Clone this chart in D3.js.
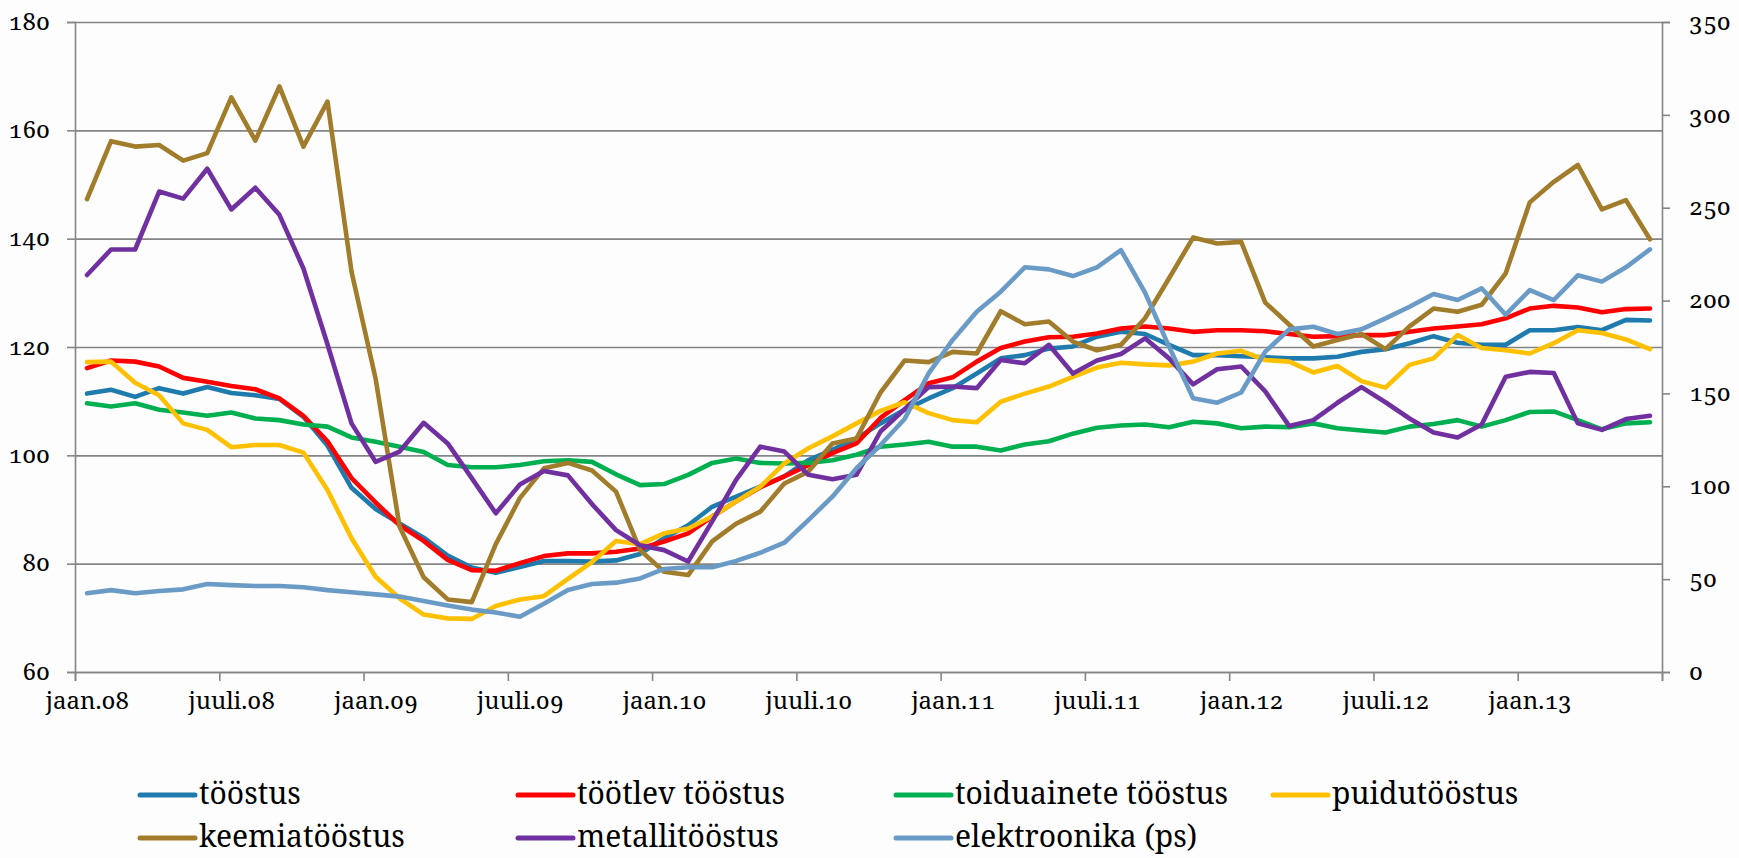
<!DOCTYPE html>
<html>
<head>
<meta charset="utf-8">
<script src="https://cdn.jsdelivr.net/npm/d3@7"></script>
<style>
  html, body { margin: 0; padding: 0; background: #fdfdfd; }
  svg { display: block; }
</style>
</head>
<body>
<svg id="chart" width="1739" height="858"></svg>
<script>
// ---- data ----
const months = d3.range(66); // jaan.08 ... juuni.13
const xTickLabels = ["jaan.08","juuli.08","jaan.09","juuli.09","jaan.10","juuli.10","jaan.11","juuli.11","jaan.12","juuli.12","jaan.13"];
const leftTicks = [60, 80, 100, 120, 140, 160, 180];
const rightTicks = [0, 50, 100, 150, 200, 250, 300, 350];

const seriesNames = ["tööstus", "töötlev tööstus", "toiduainete tööstus", "puidutööstus", "keemiatööstus", "metallitööstus", "elektroonika (ps)"];

const toostus = [111.4,112.1,110.8,112.4,111.4,112.6,111.5,111.1,110.4,107.1,101.8,94.0,90.1,87.4,84.8,81.5,79.3,78.3,79.4,80.5,80.5,80.4,80.6,81.8,84.7,87.1,90.5,92.4,94.2,96.1,99.1,101.0,103.1,105.9,108.4,110.5,112.4,115.1,117.9,118.5,119.7,120.1,121.9,122.8,122.4,120.4,118.5,118.5,118.3,118.1,117.9,117.9,118.2,119.1,119.6,120.7,122.0,120.8,120.4,120.4,123.1,123.1,123.7,123.1,125.0,124.9];
const tootlev = [116.1,117.5,117.3,116.4,114.3,113.6,112.8,112.2,110.5,107.3,102.6,95.8,91.3,87.1,84.2,80.7,78.8,78.7,80.1,81.4,81.9,81.9,82.2,82.8,84.1,85.6,88.7,91.5,94.1,96.1,98.2,100.4,102.2,106.9,110.2,113.3,114.4,117.3,119.8,121.0,121.8,121.9,122.5,123.4,123.8,123.4,122.8,123.1,123.1,122.9,122.4,121.9,122.0,122.2,122.2,122.8,123.4,123.8,124.2,125.3,127.1,127.6,127.3,126.4,127.0,127.1];
const toiduainete = [109.6,109.0,109.6,108.4,107.9,107.3,107.9,106.8,106.5,105.7,105.3,103.3,102.5,101.6,100.6,98.2,97.8,97.8,98.2,98.9,99.1,98.8,96.5,94.5,94.7,96.4,98.6,99.4,98.6,98.5,98.6,99.1,100.1,101.6,102.0,102.5,101.6,101.6,100.9,102.0,102.6,104.0,105.1,105.5,105.7,105.2,106.2,105.9,105.0,105.3,105.2,105.9,105.0,104.6,104.2,105.3,105.8,106.5,105.3,106.5,108.0,108.1,106.5,104.8,105.9,106.1];
const puidu = [117.2,117.3,113.4,111.1,105.9,104.7,101.5,101.9,101.9,100.5,93.6,84.7,77.6,73.6,70.6,69.9,69.8,72.2,73.4,74.0,77.2,80.3,84.2,83.6,85.6,86.5,88.7,91.5,94.2,98.5,101.3,103.5,105.9,108.2,109.8,107.8,106.5,106.1,109.9,111.4,112.7,114.5,116.2,117.1,116.8,116.6,117.3,118.8,119.3,117.6,117.3,115.3,116.5,113.7,112.5,116.7,117.9,122.2,119.8,119.4,118.8,120.7,123.1,122.6,121.4,119.6];
const keemia = [147.3,158.0,157.0,157.3,154.4,155.8,166.1,158.1,168.1,157.0,165.3,133.9,114.2,86.8,77.5,73.4,72.9,83.6,92.1,97.6,98.6,97.2,93.3,82.5,78.5,77.9,84.1,87.4,89.6,94.8,97.0,102.2,103.1,111.6,117.5,117.2,119.1,118.8,126.6,124.2,124.7,121.0,119.4,120.4,125.3,132.7,140.2,139.1,139.4,128.2,124.1,120.1,121.3,122.4,119.6,123.8,127.1,126.5,127.8,133.6,146.7,150.5,153.6,145.4,147.1,139.9];
const metalli = [133.3,138.0,138.0,148.7,147.4,152.9,145.4,149.4,144.4,134.5,120.5,105.9,98.8,100.7,106.0,102.2,95.8,89.3,94.6,97.1,96.3,91.0,86.2,83.4,82.5,80.4,87.8,95.5,101.6,100.7,96.4,95.6,96.4,104.4,108.5,112.6,112.7,112.4,117.6,117.0,120.4,115.1,117.5,118.7,121.6,117.9,113.1,115.9,116.4,111.8,105.4,106.5,109.7,112.6,109.8,106.8,104.2,103.3,105.7,114.5,115.4,115.2,105.9,104.7,106.7,107.3];
const elektroonika = [42.4,44.1,42.4,43.6,44.5,47.4,46.8,46.3,46.3,45.6,44.1,42.9,41.8,40.6,38.2,35.8,33.6,32.0,29.8,36.8,44.2,47.4,48.1,50.4,55.5,56.4,56.4,59.8,64.2,69.6,81.8,94.4,109.7,122.2,136.2,160.8,178.8,194.0,204.8,217.9,216.8,213.2,217.9,227.2,204.3,175.2,147.4,145.0,150.5,172.5,184.5,185.9,182.0,184.5,190.4,196.7,203.5,200.3,206.6,192.4,205.6,200.3,213.6,210.2,217.9,227.6];

const colors = ["#1F7AAD", "#FF0000", "#00B050", "#FFC000", "#A17C2A", "#7030A0", "#6A9BC6"];

const FONT = "'Noto Serif', 'Liberation Serif', serif";

// ---- layout ----
const svg = d3.select("#chart");
const L = 75, R = 1662, T = 22, B = 672;

const x = d3.scalePoint().domain(months).range([L, R]).padding(0.5);
const xEdge = d3.scaleLinear().domain([0, months.length]).range([L, R]);
const yL = d3.scaleLinear().domain([60, 180]).range([B, T]);
const yR = d3.scaleLinear().domain([0, 350]).range([B, T]);

const gray = "#858585";

function styleText(sel, size) {
  sel.attr("font-family", null)
     .style("font-family", FONT)
     .style("font-size", size + "px")
     .style("font-variant-numeric", "oldstyle-nums")
     .style("font-feature-settings", "'onum' 1")
     .attr("fill", "#000");
}

// gridlines
const grid = svg.append("g").attr("transform", `translate(${L},0)`)
  .call(d3.axisLeft(yL).tickValues(leftTicks).tickSize(-(R - L)).tickFormat(""));
grid.selectAll("line").attr("stroke", gray).attr("stroke-width", 1.6);
grid.select(".domain").remove();

// left axis
const axL = svg.append("g").attr("transform", `translate(${L},0)`)
  .call(d3.axisLeft(yL).tickValues(leftTicks).tickSize(8).tickPadding(17));
axL.attr("font-family", null).attr("font-size", null);
axL.select(".domain").attr("stroke", gray).attr("stroke-width", 1.6);
axL.selectAll("line").attr("stroke", gray).attr("stroke-width", 1.6);
styleText(axL.selectAll("text").attr("dy", "0.3em"), 24);

// right axis
const axR = svg.append("g").attr("transform", `translate(${R},0)`)
  .call(d3.axisRight(yR).tickValues(rightTicks).tickSize(8).tickPadding(19));
axR.attr("font-family", null).attr("font-size", null);
axR.select(".domain").attr("stroke", gray).attr("stroke-width", 1.6);
axR.selectAll("line").attr("stroke", gray).attr("stroke-width", 1.6);
styleText(axR.selectAll("text").attr("dy", "0.3em"), 24);

// bottom axis: tick marks at category edges
const axB = svg.append("g").attr("transform", `translate(0,${B})`)
  .call(d3.axisBottom(xEdge).tickValues(d3.range(0, months.length + 1, 6)).tickSize(9).tickFormat(""));
axB.select(".domain").attr("stroke", gray).attr("stroke-width", 1.6);
axB.selectAll("line").attr("stroke", gray).attr("stroke-width", 1.6);

// bottom labels centered on categories
const labelIdx = xTickLabels.map((d, i) => i * 6);
const axBL = svg.append("g").attr("transform", `translate(0,${B})`)
  .call(d3.axisBottom(x).tickValues(labelIdx).tickSize(0).tickPadding(20)
        .tickFormat((d) => xTickLabels[d / 6]));
axBL.attr("font-family", null).attr("font-size", null);
axBL.select(".domain").remove();
styleText(axBL.selectAll("text"), 24);

// lines
const leftSeries = [toostus, tootlev, toiduainete, puidu, keemia, metalli];
const lineL = d3.line().x((d, i) => x(i)).y((d) => yL(d));
const lineR = d3.line().x((d, i) => x(i)).y((d) => yR(d));

const gl = svg.append("g");
leftSeries.forEach((s, k) => {
  gl.append("path").datum(s).attr("d", lineL)
    .attr("fill", "none").attr("stroke", colors[k]).attr("stroke-width", 4.6)
    .attr("stroke-linejoin", "round").attr("stroke-linecap", "round");
});
gl.append("path").datum(elektroonika).attr("d", lineR)
  .attr("fill", "none").attr("stroke", colors[6]).attr("stroke-width", 4.6)
  .attr("stroke-linejoin", "round").attr("stroke-linecap", "round");

// legend
const legCols = [140, 518, 896, 1273];
const legRows = [795, 838];
const leg = svg.append("g");
seriesNames.forEach((name, k) => {
  const cx = legCols[k % 4], cy = legRows[Math.floor(k / 4)];
  leg.append("line").attr("x1", cx).attr("x2", cx + 55).attr("y1", cy).attr("y2", cy)
    .attr("stroke", colors[k]).attr("stroke-width", 5).attr("stroke-linecap", "round");
  const t = leg.append("text").attr("x", cx + 59).attr("y", cy + 9).text(name);
  styleText(t, 30);
});
</script>
</body>
</html>
